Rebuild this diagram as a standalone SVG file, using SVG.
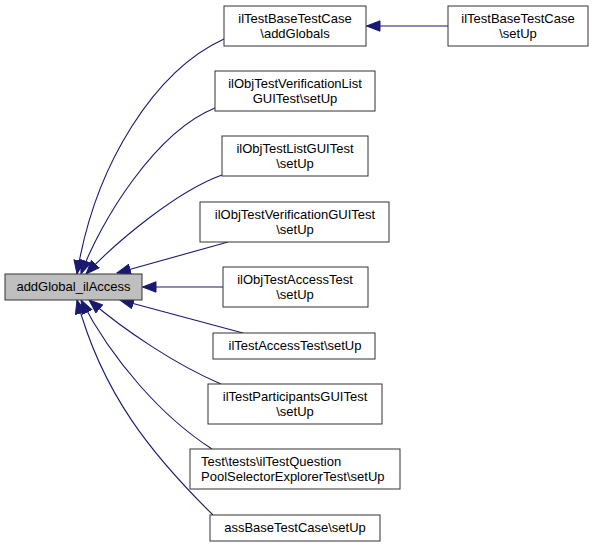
<svg xmlns="http://www.w3.org/2000/svg" width="595" height="547" viewBox="0 0 595 547">
<defs>
<style>
.n rect{fill:#fff;stroke:#333;stroke-width:1}
.n.main rect{fill:#bfbfbf}
.n text{font-family:"Liberation Sans",Arial,sans-serif;font-size:13px;fill:#000;text-anchor:middle}
.n text.l{text-anchor:start}
.e path{fill:none;stroke:#191970;stroke-width:1.1;marker-end:url(#ah)}
</style>
<marker id="ah" viewBox="0 0 15 12" refX="14" refY="6" markerWidth="15" markerHeight="12" markerUnits="userSpaceOnUse" orient="auto">
<path d="M0.5,0.8 L14,6 L0.5,11.2 z" fill="#191970" stroke="#191970" stroke-width="1"/>
</marker>
</defs>
<rect width="595" height="547" fill="#fff"/>
<g id="edges" class="e">
<path d="M448,26 L366.5,26"/>
<path d="M224,39 C156,70 95,163 77,274"/>
<path d="M215,108 C155,132 100,222 81,274"/>
<path d="M222,175 C177,191 116,242 86,274"/>
<path d="M228,242 L117,273"/>
<path d="M223,287 L142.5,287"/>
<path d="M243,333 L120,300"/>
<path d="M221,384 C176,365 124,330 89,300"/>
<path d="M212,449 C162,417 112,360 81,300"/>
<path d="M213,515 C153,456 102,394 77,300"/>
</g>
<g id="node0" class="n main"><rect x="5" y="274" width="137" height="26"/><text x="73.5" y="291">addGlobal_ilAccess</text></g>
<g id="node1" class="n"><rect x="224" y="6" width="142" height="40"/><text x="295" y="23">ilTestBaseTestCase</text><text x="295" y="38">\addGlobals</text></g>
<g id="node2" class="n"><rect x="448" y="6" width="140" height="40"/><text x="518" y="23">ilTestBaseTestCase</text><text x="518" y="38">\setUp</text></g>
<g id="node3" class="n"><rect x="215" y="71" width="160" height="40"/><text x="295" y="88">ilObjTestVerificationList</text><text x="295" y="103">GUITest\setUp</text></g>
<g id="node4" class="n"><rect x="222" y="136" width="146" height="40"/><text x="295" y="153">ilObjTestListGUITest</text><text x="295" y="168">\setUp</text></g>
<g id="node5" class="n"><rect x="200" y="202" width="189" height="40"/><text x="295" y="219">ilObjTestVerificationGUITest</text><text x="295" y="234">\setUp</text></g>
<g id="node6" class="n"><rect x="223" y="267" width="145" height="40"/><text x="295" y="284">ilObjTestAccessTest</text><text x="295" y="299">\setUp</text></g>
<g id="node7" class="n"><rect x="213" y="333" width="162" height="26"/><text x="295" y="350">ilTestAccessTest\setUp</text></g>
<g id="node8" class="n"><rect x="208" y="384" width="174" height="40"/><text x="295" y="401">ilTestParticipantsGUITest</text><text x="295" y="416">\setUp</text></g>
<g id="node9" class="n"><rect x="190" y="449" width="210" height="40"/><text class="l" x="201" y="466">Test\tests\ilTestQuestion</text><text class="l" x="201" y="481">PoolSelectorExplorerTest\setUp</text></g>
<g id="node10" class="n"><rect x="210" y="515" width="170" height="26"/><text x="295" y="532">assBaseTestCase\setUp</text></g>
</svg>
